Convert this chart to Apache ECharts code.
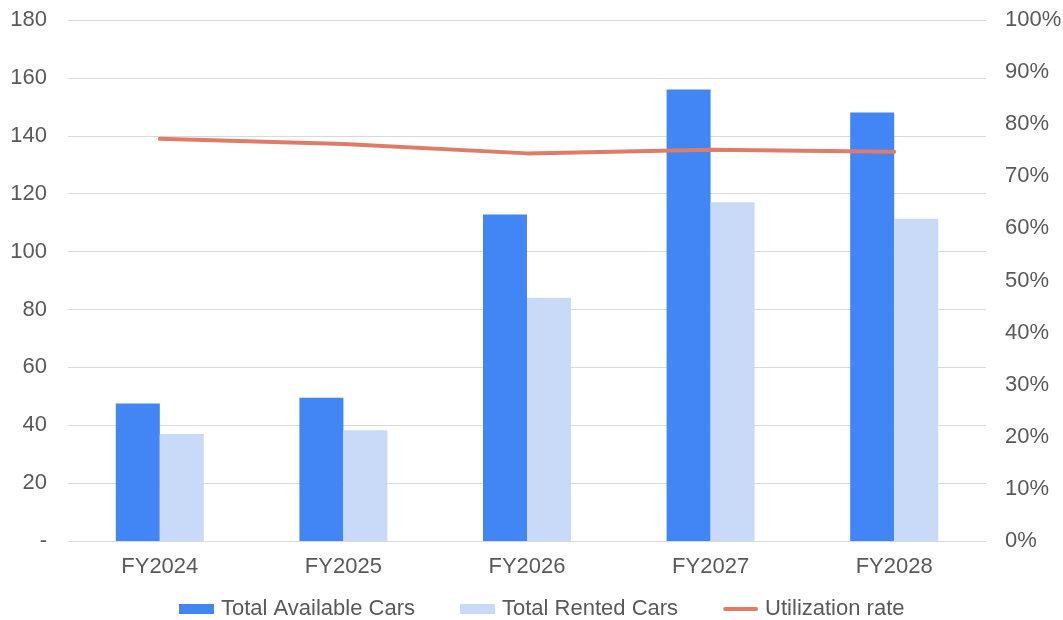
<!DOCTYPE html>
<html>
<head>
<meta charset="utf-8">
<script src="https://cdn.jsdelivr.net/npm/echarts@6/dist/echarts.min.js"></script>
<style>
  html, body { margin: 0; padding: 0; background: #ffffff; }
  #chart { width: 1063px; height: 620px; }
</style>
</head>
<body>
<div id="chart"></div>
<script>
// Fiscal years on the category axis
const years = ['FY2024', 'FY2025', 'FY2026', 'FY2027', 'FY2028'];
// Fleet size and cars on rent (left axis)
const availableCars = [47.5, 49.5, 112.8, 156, 148];
const rentedCars = [37, 38.3, 84, 117, 111.3];
// Share of fleet rented, in % (right axis)
const utilizationRate = [77.2, 76.2, 74.4, 75.1, 74.7];
// Tick labels
const leftTicks = ['-', '20', '40', '60', '80', '100', '120', '140', '160', '180'];

const labelColor = '#595959';
const gridColor = '#D9D9D9';
const lineColor = '#E07B67';
const font = 'Liberation Sans, Arial, sans-serif';

const chart = echarts.init(document.getElementById('chart'), null, { renderer: 'canvas' });

chart.setOption({
  animation: false,
  backgroundColor: '#ffffff',
  grid: { left: 68, right: 77, top: 20, bottom: 79, containLabel: false, outerBoundsMode: 'none' },
  legend: {
    top: 593,
    left: 174,
    itemGap: 45,
    itemWidth: 35,
    itemHeight: 10,
    textStyle: { color: labelColor, fontFamily: font, fontSize: 22, padding: [0, 0, 0, 2] },
    data: [
      { name: 'Total Available Cars', icon: 'rect' },
      { name: 'Total Rented Cars', icon: 'rect' },
      {
        name: 'Utilization rate',
        // thin rounded bar standing in for the line
        icon: 'path://M2,0 H33 A2,2 0 0 1 33,4 H2 A2,2 0 0 1 2,0 Z',
        itemStyle: { color: lineColor }
      }
    ]
  },
  xAxis: {
    type: 'category',
    data: years,
    axisTick: { show: false },
    axisLine: { show: true, lineStyle: { color: gridColor, width: 1 } },
    axisLabel: { color: labelColor, fontFamily: font, fontSize: 22, margin: 15 }
  },
  yAxis: [
    {
      type: 'value',
      min: 0,
      max: 180,
      interval: 20,
      axisLine: { show: false },
      axisTick: { show: false },
      splitLine: { lineStyle: { color: gridColor, width: 1 } },
      axisLabel: {
        color: labelColor,
        fontFamily: font,
        fontSize: 22,
        margin: 21,
        formatter: (v) => leftTicks[Math.round(v / 20)]
      }
    },
    {
      type: 'value',
      min: 0,
      max: 100,
      interval: 10,
      position: 'right',
      axisLine: { show: false },
      axisTick: { show: false },
      splitLine: { show: false },
      axisLabel: {
        color: labelColor,
        fontFamily: font,
        fontSize: 22,
        margin: 19,
        formatter: (v) => v + '%'
      }
    }
  ],
  series: [
    {
      name: 'Total Available Cars',
      type: 'bar',
      yAxisIndex: 0,
      data: availableCars,
      barWidth: 44,
      barGap: '0%',
      itemStyle: { color: '#4285F4' }
    },
    {
      name: 'Total Rented Cars',
      type: 'bar',
      yAxisIndex: 0,
      data: rentedCars,
      barWidth: 44,
      barGap: '0%',
      itemStyle: { color: '#C9DAF8' }
    },
    {
      name: 'Utilization rate',
      type: 'line',
      yAxisIndex: 1,
      data: utilizationRate,
      symbol: 'none',
      z: 5,
      itemStyle: { color: lineColor },
      lineStyle: { color: lineColor, width: 4, cap: 'round', join: 'round' }
    }
  ]
});
</script>
</body>
</html>
